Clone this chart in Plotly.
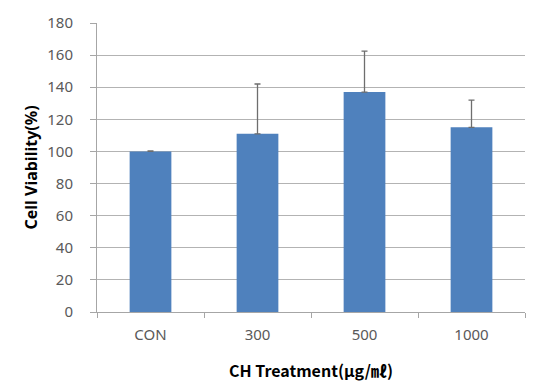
import plotly.graph_objects as go

categories = ["CON", "300", "500", "1000"]
viability = [100, 111, 137, 115]
err_plus = [0.3, 31, 25.5, 17]
y_ticks = [0, 20, 40, 60, 80, 100, 120, 140, 160, 180]

fig = go.Figure(go.Bar(
    x=categories, y=viability,
    marker=dict(color="#4f81bd", line=dict(width=0)),
    error_y=dict(type="data", array=err_plus, symmetric=False, arrayminus=[0]*4,
                 color="#6e6e6e", thickness=1.3, width=3),
))

fig.update_layout(
    width=538, height=392,
    margin=dict(l=97, r=13, t=12, b=80),
    paper_bgcolor="white", plot_bgcolor="white",
    bargap=0.61,
    showlegend=False,
    font=dict(family="Noto Sans, Noto Sans CJK KR", color="#595959", size=12),
    xaxis=dict(
        showline=True, linecolor="#a6a6a6", linewidth=1,
        ticks="outside", tickson="boundaries", ticklen=5, tickcolor="#a6a6a6",
        ticklabelstandoff=9,
        tickfont=dict(size=15, color="#595959"),
        title=dict(text="CH Treatment(μg/㎖)", standoff=22,
                   font=dict(size=16, color="#000000", family="Noto Sans CJK KR, Noto Sans", weight="bold")),
    ),
    yaxis=dict(
        range=[0, 180], tickvals=y_ticks,
        showline=True, linecolor="#a6a6a6", linewidth=1,
        ticks="outside", ticklen=6, tickcolor="#a6a6a6",
        ticklabelstandoff=14,
        showgrid=True, gridcolor="#b3b3b3", gridwidth=1,
        zeroline=False,
        tickfont=dict(size=15, color="#595959"),
        title=dict(text="Cell Viability(%)", standoff=5,
                   font=dict(size=16, color="#000000", family="Noto Sans", weight="bold")),
    ),
)

fig.write_html("out.html")
